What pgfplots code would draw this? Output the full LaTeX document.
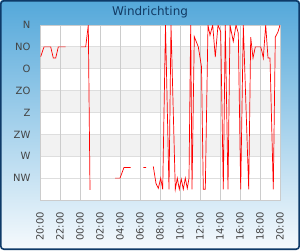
\documentclass[border=0pt]{standalone}
\usepackage{pgfplots}
\pgfplotsset{compat=1.18}
\usepackage{fontspec}
\setmainfont{DejaVu Sans}
\definecolor{frame}{RGB}{14,58,104}
\definecolor{bgtop}{RGB}{84,168,218}
\definecolor{bgbot}{RGB}{246,250,253}
\definecolor{titlec}{RGB}{18,58,100}
\definecolor{labelc}{RGB}{68,68,68}
\definecolor{gridv}{RGB}{204,204,204}
\definecolor{gridh}{RGB}{222,222,222}
\definecolor{band}{RGB}{242,242,242}
\pgfplotstableread{
h deg
0.07 65
0.4 45
1.07 45
1.33 68
1.57 68
1.83 45
2.57 45
3.0 nan
4.07 45
4.57 45
4.83 0
5.0 339
6.0 nan
7.5 315
8.0 315
8.4 293
9.07 293
9.5 nan
10.33 293
10.6 293
11.0 nan
11.33 291
11.6 326
11.83 336
12.07 315
12.27 338
12.55 0
12.9 338
13.1 0
13.53 338
13.73 315
13.93 338
14.13 317
14.33 338
14.53 315
14.73 336
14.9 315
15.07 0
15.2 338
15.43 24
15.83 45
16.15 86
16.33 338
16.53 338
16.8 0
17.0 21
17.27 0
17.53 66
17.8 0
18.07 14
18.33 338
18.53 0
18.8 338
19.0 0
19.33 34
19.6 0
19.83 17
20.07 338
20.33 0
20.87 338
21.07 25
21.3 68
21.53 45
22.07 45
22.2 55
22.33 68
22.57 0
22.8 68
23.0 68
23.33 338
23.53 25
23.8 14
24.0 0
}\winddata
\begin{document}
\begin{tikzpicture}[x=1pt,y=1pt]
\shade[top color=bgtop,bottom color=bgbot,rounded corners=3pt] (0,0) rectangle (300,250);
\draw[frame,line width=1.6pt,rounded corners=3pt] (0.8,0.8) rectangle (299.2,249.2);
\node[text=titlec,font=\fontsize{12}{14}\selectfont] at (150,238) {Windrichting};
% plot area background, bands and horizontal grid lines
\fill[white] (40,50) rectangle (280,225);
\fill[band] (40,181.25) rectangle (280,203.125);
\fill[band] (40,137.5) rectangle (280,159.375);
\fill[band] (40,93.75) rectangle (280,115.625);
\foreach \yy in {203.125,181.25,159.375,137.5,115.625,93.75,71.875}{
  \draw[gridh,line width=0.8pt] (40,\yy) -- (280,\yy);
}
\begin{axis}[
  at={(40pt,50pt)}, anchor=south west,
  scale only axis, width=240pt, height=175pt,
  xmin=0, xmax=24, ymin=0, ymax=360, y dir=reverse,
  xtick={0,2,...,24},
  xticklabels={20:00,22:00,00:00,02:00,04:00,06:00,08:00,10:00,12:00,14:00,16:00,18:00,20:00},
  ytick={0,45,...,315},
  yticklabels={N,NO,O,ZO,Z,ZW,W,NW},
  xmajorgrids=true, ymajorgrids=false,
  major grid style={gridv,line width=0.8pt},
  axis line style={draw=gridv,line width=0.8pt},
  major tick length=0pt,
  ticklabel style={font=\fontsize{10}{12}\selectfont,text=labelc},
  x tick label style={rotate=90,anchor=east,xshift=-8.5pt},
  y tick label style={xshift=-6pt},
  clip=true,
]
\addplot[red,line width=0.7pt,unbounded coords=jump,mark=none] table[x=h,y=deg] {\winddata};
\end{axis}
\end{tikzpicture}
\end{document}
